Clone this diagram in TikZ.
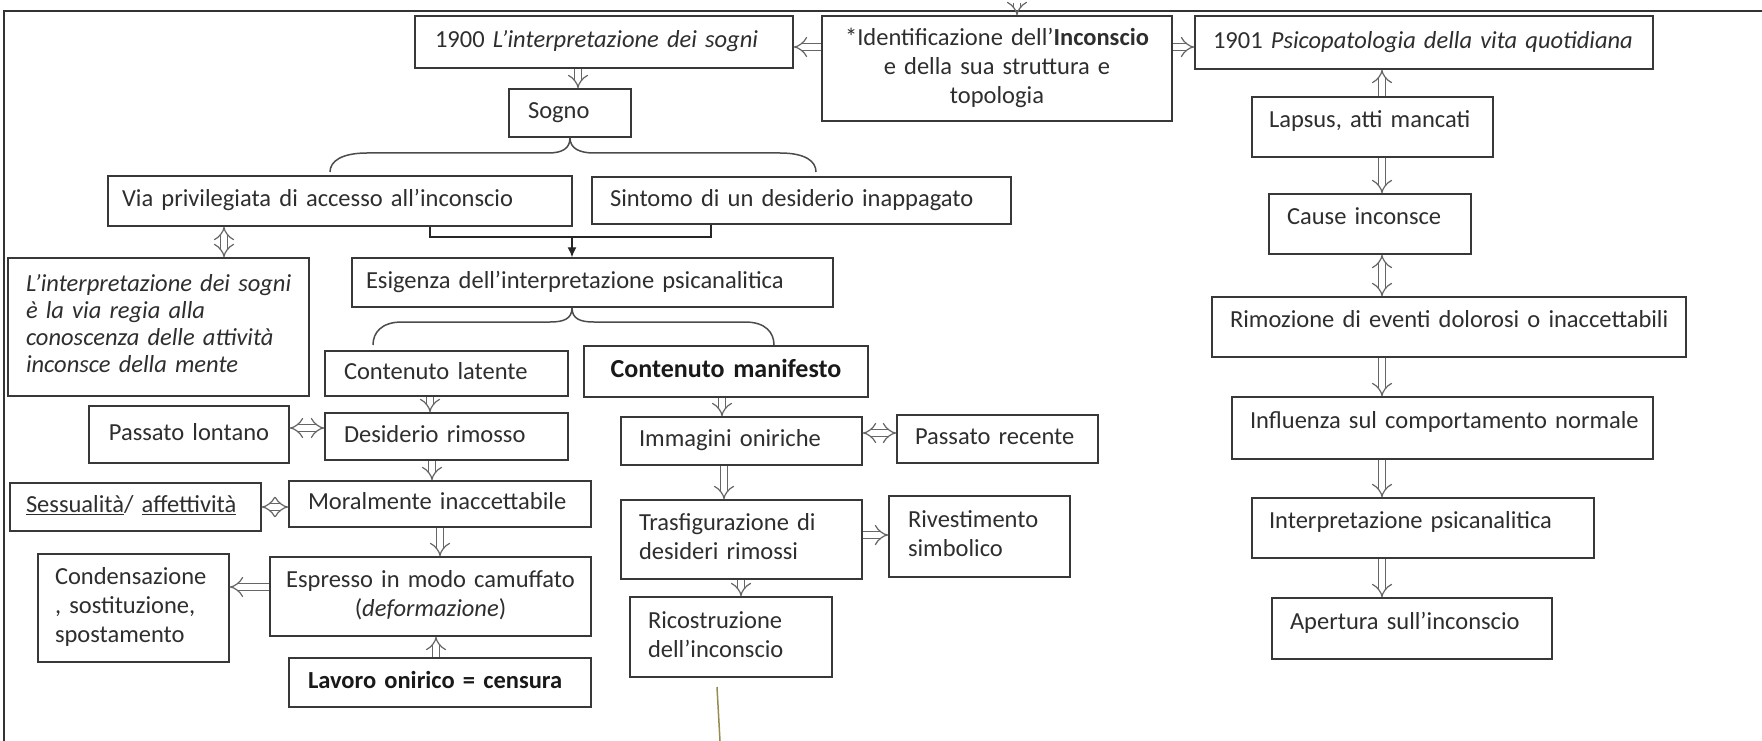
\documentclass[tikz,border=0pt]{standalone}
\usepackage{fontspec}
\setmainfont{Carlito}
\usetikzlibrary{arrows.meta,calc}
\definecolor{txt}{HTML}{2E2E2E}
\definecolor{olivel}{RGB}{150,140,80}
\newcommand{\lft}[1]{\begin{tabular}{@{}l@{}}#1\end{tabular}}
\newcommand{\ctr}[1]{\begin{tabular}{@{}c@{}}#1\end{tabular}}
\newcommand{\upl}[1]{\lft{#1}\rule[-18pt]{0pt}{0pt}}
\begin{document}
\begin{tikzpicture}[x=1pt,y=-1pt,
  bx/.style={draw=black!78, line width=1.5pt, inner ysep=0pt, font=\fontsize{24.5}{29}\selectfont, text=txt, align=left},
  harrow/.style={draw=black!60, line width=1.2pt, double=white, double distance=6pt, -{Implies}},
  harrows/.style={draw=black!60, line width=1.2pt, double=white, double distance=6pt, {Implies}-{Implies}},
  brace/.style={draw=black!70, line width=1.5pt},
  conn/.style={draw=black!85, line width=1.3pt},
  frame/.style={draw=black!80, line width=2.2pt}]
\useasboundingbox (0,0) rectangle (1762,741);
\fill[white] (0,0) rectangle (1762,741);
\draw[frame] (4,741) -- (4,11) -- (1762,11);

% top row
\node[bx, minimum width=378pt, minimum height=52pt, text width=338pt, inner xsep=20pt] (b1900) at (604,42) {\lft{1900 \textit{L’interpretazione dei sogni}}};
\node[bx, align=center, minimum width=350pt, minimum height=105pt, text width=330pt, inner xsep=10pt] (ident) at (997,68.5) {\ctr{*Identificazione dell’\textbf{Inconscio}\\e della sua struttura e\\topologia}};
\node[bx, minimum width=458pt, minimum height=53pt, text width=422pt, inner xsep=18pt] (b1901) at (1424,42.5) {\lft{1901 \textit{Psicopatologia della vita quotidiana}}};

% left part
\node[bx, minimum width=122pt, minimum height=48pt, text width=84pt, inner xsep=19pt] (sogno) at (570,113) {\lft{Sogno}};
\node[bx, minimum width=464pt, minimum height=50pt, text width=436pt, inner xsep=14pt] (via) at (340,201) {\lft{Via privilegiata di accesso all’inconscio}};
\node[bx, minimum width=419pt, minimum height=47pt, text width=383pt, inner xsep=18pt] (sint) at (801.5,200.5) {\lft{Sintomo di un desiderio inappagato}};
\node[bx, minimum width=481pt, minimum height=49pt, text width=453pt, inner xsep=14pt] (esig) at (592.5,282.5) {\lft{Esigenza dell’interpretazione psicanalitica}};
\node[bx, font=\fontsize{24.5}{27}\selectfont\itshape, minimum width=301pt, minimum height=138pt, text width=265pt, inner xsep=18pt] (linterp) at (158.5,327) {\lft{L’interpretazione dei sogni\\è la via regia alla\\conoscenza delle attività\\inconsce della mente}};
\node[bx, minimum width=243pt, minimum height=45pt, text width=205pt, inner xsep=19pt] (clat) at (446.5,373.5) {\lft{Contenuto latente}};
\node[bx, align=center, font=\fontsize{26}{30}\selectfont\bfseries, text=black!90, minimum width=284pt, minimum height=51pt, text width=264pt, inner xsep=10pt] (cman) at (726,371.5) {\ctr{Contenuto manifesto}};
\node[bx, align=center, minimum width=200pt, minimum height=57pt, text width=180pt, inner xsep=10pt] (plon) at (189,434.5) {\ctr{Passato lontano}};
\node[bx, minimum width=243pt, minimum height=47pt, text width=205pt, inner xsep=19pt] (desid) at (446.5,436.5) {\lft{Desiderio rimosso}};
\node[bx, minimum width=241pt, minimum height=48pt, text width=205pt, inner xsep=18pt] (imm) at (741.5,441) {\lft{Immagini oniriche}};
\node[bx, minimum width=201pt, minimum height=48pt, text width=165pt, inner xsep=18pt] (prec) at (997.5,439) {\lft{Passato recente}};
\node[bx, minimum width=251pt, minimum height=48pt, text width=219pt, inner xsep=16pt] (sess) at (135.5,507) {\lft{\underline{Sessualità}/ \underline{affettività}}};
\node[bx, minimum width=302pt, minimum height=46pt, text width=264pt, inner xsep=19pt] (moral) at (440,504) {\lft{Moralmente inaccettabile}};
\node[bx, align=center, minimum width=321pt, minimum height=79pt, text width=301pt, inner xsep=10pt] (espr) at (430.5,596.5) {\ctr{Espresso in modo camuffato\\(\textit{deformazione})}};
\node[bx, minimum width=191pt, minimum height=108pt, text width=157pt, inner xsep=17pt] (cond) at (133.5,608) {\lft{Condensazione\\, sostituzione,\\spostamento}};
\node[bx, font=\fontsize{24.5}{29}\selectfont\bfseries, text=black!90, minimum width=302pt, minimum height=49pt, text width=264pt, inner xsep=19pt] (lavoro) at (440,682.5) {\lft{Lavoro onirico = censura}};
\node[bx, minimum width=241pt, minimum height=79pt, text width=205pt, inner xsep=18pt] (trasf) at (741.5,539.5) {\lft{Trasfigurazione di\\desideri rimossi}};
\node[bx, minimum width=181pt, minimum height=81pt, text width=143pt, inner xsep=19pt] (rivest) at (979.5,536.5) {\lft{Rivestimento\\simbolico}};
\node[bx, minimum width=202pt, minimum height=80pt, text width=166pt, inner xsep=18pt] (ricost) at (731,637) {\lft{Ricostruzione\\dell’inconscio}};

% right column
\node[bx, minimum width=241pt, minimum height=60pt, text width=207pt, inner xsep=17pt] (lapsus) at (1372.5,127) {\upl{Lapsus, atti mancati}};
\node[bx, minimum width=202pt, minimum height=60pt, text width=166pt, inner xsep=18pt] (cause) at (1370,224) {\upl{Cause inconsce}};
\node[bx, minimum width=474pt, minimum height=60pt, text width=438pt, inner xsep=18pt] (rimoz) at (1449,327) {\upl{Rimozione di eventi dolorosi o inaccettabili}};
\node[bx, minimum width=421pt, minimum height=62pt, text width=385pt, inner xsep=18pt] (influ) at (1442.5,428) {\upl{Influenza sul comportamento normale}};
\node[bx, minimum width=342pt, minimum height=60pt, text width=308pt, inner xsep=17pt] (interp) at (1423,528) {\upl{Interpretazione psicanalitica}};
\node[bx, minimum width=280pt, minimum height=61pt, text width=244pt, inner xsep=18pt] (apert) at (1412,628.5) {\upl{Apertura sull’inconscio}};

% helper coordinates
\coordinate (r47) at (0,47);
\coordinate (k578) at (578,0);
\coordinate (topin) at (1017,3);
\coordinate (k224) at (224,0);
\coordinate (vj) at (430,237);
\coordinate (sj) at (711,237);
\coordinate (mj) at (572,237);
\coordinate (k572) at (572,0);
\coordinate (k430) at (430,0);
\coordinate (r428) at (0,428);
\coordinate (k432) at (432,0);
\coordinate (r507) at (0,507);
\coordinate (k440) at (440,0);
\coordinate (r587) at (0,587);
\coordinate (k436) at (436,0);
\coordinate (k722) at (722,0);
\coordinate (r433) at (0,433);
\coordinate (k724) at (724,0);
\coordinate (r535) at (0,535);
\coordinate (k741) at (741,0);
\coordinate (k1382) at (1382,0);
\coordinate (ol1) at (717,687);
\coordinate (ol2) at (720,741);

% top arrows
\draw[harrow] (ident.west |- r47) -- (b1900.east |- r47);
\draw[harrow] (ident.east |- r47) -- (b1901.west |- r47);
\draw[harrow] (k578 |- b1900.south) -- (k578 |- sogno.north);
\draw[harrow] (topin) -- (topin |- ident.north);

% brace under Sogno
\draw[brace] (sogno.south) .. controls +(0,11) and +(14,0) .. (548,153) -- (367,153) .. controls (342,153) and (330,161) .. (330,172);
\draw[brace] (sogno.south) .. controls +(0,11) and +(-14,0) .. (594,153) -- (780,153) .. controls (805,153) and (816,161) .. (816,172);

% via / sintomo -> esigenza
\draw[conn] (vj |- via.south) -- (vj) -- (sj) -- (sj |- sint.south);
\draw[conn, -{Latex[length=10pt,width=9pt]}] (mj) -- (mj |- esig.north);
\draw[harrows] (k224 |- via.south) -- (k224 |- linterp.north);

% brace under Esigenza
\draw[brace] (k572 |- esig.south) .. controls +(0,11) and +(14,0) .. (550,322) -- (402,322) .. controls (381,322) and (373,333) .. (373,345);
\draw[brace] (k572 |- esig.south) .. controls +(0,11) and +(-14,0) .. (594,322) -- (745,322) .. controls (766,322) and (774,333) .. (774,345);

% latent branch
\draw[harrow] (k430 |- clat.south) -- (k430 |- desid.north);
\draw[harrows] (plon.east |- r428) -- (desid.west |- r428);
\draw[harrow] (k432 |- desid.south) -- (k432 |- moral.north);
\draw[harrows] (sess.east |- r507) -- (moral.west |- r507);
\draw[harrow] (k440 |- moral.south) -- (k440 |- espr.north);
\draw[harrow] (espr.west |- r587) -- (cond.east |- r587);
\draw[harrow] (k436 |- lavoro.north) -- (k436 |- espr.south);

% manifest branch
\draw[harrow] (k722 |- cman.south) -- (k722 |- imm.north);
\draw[harrows] (imm.east |- r433) -- (prec.west |- r433);
\draw[harrow] (k724 |- imm.south) -- (k724 |- trasf.north);
\draw[harrow] (trasf.east |- r535) -- (rivest.west |- r535);
\draw[harrow] (k741 |- trasf.south) -- (k741 |- ricost.north);

% right column
\draw[harrow] (k1382 |- lapsus.north) -- (k1382 |- b1901.south);
\draw[harrow] (k1382 |- lapsus.south) -- (k1382 |- cause.north);
\draw[harrows] (k1382 |- cause.south) -- (k1382 |- rimoz.north);
\draw[harrow] (k1382 |- rimoz.south) -- (k1382 |- influ.north);
\draw[harrow] (k1382 |- influ.south) -- (k1382 |- interp.north);
\draw[harrow] (k1382 |- interp.south) -- (k1382 |- apert.north);

% olive line
\draw[olivel, line width=1.5pt] (ol1) -- (ol2);
\end{tikzpicture}
\end{document}
